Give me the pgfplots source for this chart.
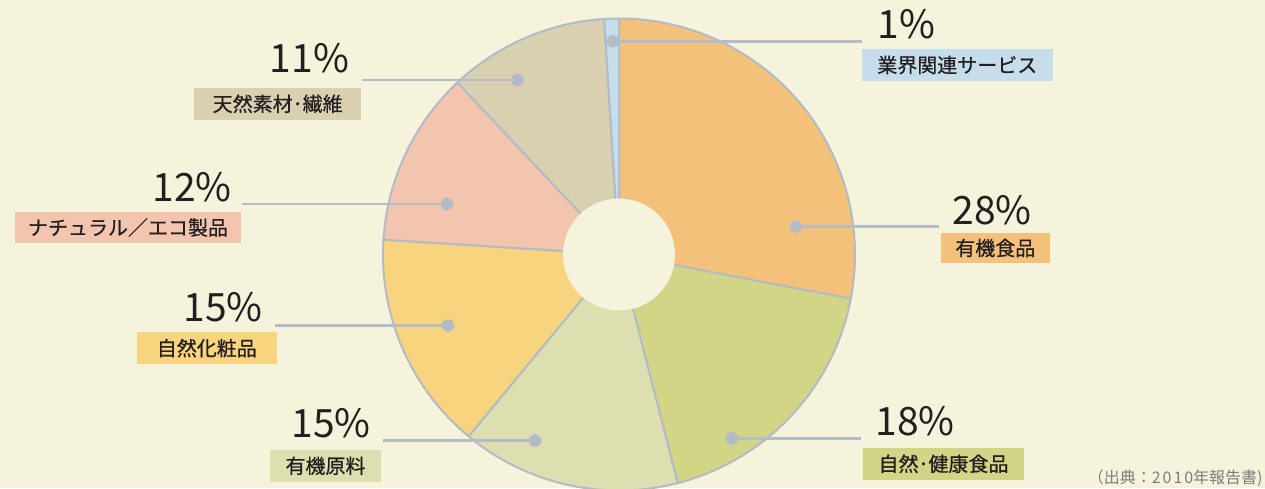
\documentclass[border=0pt]{standalone}
\usepackage{fontspec}
\setmainfont{Noto Sans CJK JP}
\newfontfamily\lblfam[FakeBold=0.6]{Noto Sans CJK JP}
\usepackage{pgfplots}
\usepackage{pgfplotstable}
\pgfplotsset{compat=1.18}

\definecolor{bgcol}{HTML}{F6F3DC}
\definecolor{cOrange}{HTML}{F4C17B}
\definecolor{cGreen}{HTML}{D2D586}
\definecolor{cPale}{HTML}{DEDFB1}
\definecolor{cYellow}{HTML}{F8D47E}
\definecolor{cPink}{HTML}{F3C4AE}
\definecolor{cBeige}{HTML}{D9D0B2}
\definecolor{cBlue}{HTML}{C6DEEC}
\definecolor{edgecol}{HTML}{B3BBC4}
\definecolor{linecol}{HTML}{B4BCC6}
\definecolor{txtcol}{HTML}{231F20}
\definecolor{srccol}{HTML}{7C7C7C}

\newcommand\pctfont{\fontsize{19.5}{23}\selectfont}
\newcommand\lblfont{\lblfam\fontsize{10}{12}\selectfont}

% share of each segment, clockwise from 12 o'clock
\pgfplotstableread{
pct col
28 cOrange
18 cGreen
15 cPale
15 cYellow
12 cPink
11 cBeige
1  cBlue
}\piedata

\begin{document}
\begin{tikzpicture}
\begin{axis}[x=0.5pt, y=0.5pt, xmin=0, xmax=1265, ymin=0, ymax=488,
  hide axis, clip=true]
\fill[bgcol] (axis cs:0,0) rectangle (axis cs:1265,488);
% pie slices
\pgfplotstablegetrowsof{\piedata}
\pgfmathtruncatemacro{\lastrow}{\pgfplotsretval-1}
\def\angA{90}
\pgfplotsforeachungrouped \i in {0,...,\lastrow}{%
  \pgfplotstablegetelem{\i}{pct}\of\piedata \let\pct\pgfplotsretval
  \pgfplotstablegetelem{\i}{col}\of\piedata \let\col\pgfplotsretval
  \pgfmathsetmacro{\angB}{\angA-3.6*\pct}%
  \edef\slice{\noexpand\filldraw[fill=\col,draw=edgecol,line width=1pt,line join=round] (axis cs:619,233.5) -- ++(\angA:118pt) arc[start angle=\angA,end angle=\angB,radius=118pt] -- cycle;}%
  \slice
  \let\angA\angB
}
% hole
\fill[bgcol] (axis cs:619,233.5) circle[radius=28pt];

% leader lines (dot end first)
\pgfplotsset{leader/.style={linecol, line width=1.3pt, mark=*, mark indices={1}, mark size=2.6pt, mark options={fill=edgecol, draw=none}}}
\addplot[leader] coordinates {(612.7,446.7) (862,446.7)};
\addplot[leader] coordinates {(796,261.3) (939,261.3)};
\addplot[leader] coordinates {(732,49.7) (861,49.7)};
\addplot[leader] coordinates {(535,47.3) (382.7,47.3)};
\addplot[leader] coordinates {(448,162.3) (275,162.3)};
\addplot[leader] coordinates {(447,284) (241.7,284)};
\addplot[leader] coordinates {(517.7,408) (361.7,408)};

% percentages
\tikzset{pct/.style={anchor=base west, inner sep=0pt, font=\pctfont, text=txtcol}}
\node[pct] at (axis cs:877,449.7) {1\%};
\node[pct] at (axis cs:952,263) {28\%};
\node[pct] at (axis cs:875,53) {18\%};
\node[pct] at (axis cs:291,50.3) {15\%};
\node[pct] at (axis cs:183,166.3) {15\%};
\node[pct] at (axis cs:152,286.3) {12\%};
\node[pct] at (axis cs:269.5,415.7) {11\%};

% label boxes
\tikzset{lbl/.style={inner sep=0pt, font=\lblfont, text=txtcol, text height=0.88em, text depth=0.12em}}
\node[lbl, fill=cBlue, minimum width=95.6pt, minimum height=15.6pt] at (axis cs:957.3,423) {業界関連サービス};
\node[lbl, fill=cOrange, minimum width=54.6pt, minimum height=15.3pt] at (axis cs:995.3,240) {有機食品};
\node[lbl, fill=cGreen, minimum width=80.8pt, minimum height=16.1pt] at (axis cs:943.5,24.2) {自然･健康食品};
\node[lbl, fill=cPale, minimum width=55.5pt, minimum height=15.8pt] at (axis cs:325.5,22.2) {有機原料};
\node[lbl, fill=cYellow, minimum width=69.8pt, minimum height=15.8pt] at (axis cs:206.8,139.8) {自然化粧品};
\node[lbl, fill=cPink, minimum width=113pt, minimum height=15.8pt] at (axis cs:128,260.5) {ナチュラル／エコ製品};
\node[lbl, fill=cBeige, minimum width=83.3pt, minimum height=16.1pt] at (axis cs:277.7,384.2) {天然素材･繊維};

% source
\node[anchor=base east, inner sep=0pt, font=\fontsize{8}{9.5}\selectfont, text=srccol] at (axis cs:1263,5) {（出典：{\addfontfeature{LetterSpace=12}2010}年報告書)};
\end{axis}
\pgfresetboundingbox
\path[use as bounding box] (current axis.south west) rectangle (current axis.north east);
\end{tikzpicture}
\end{document}
